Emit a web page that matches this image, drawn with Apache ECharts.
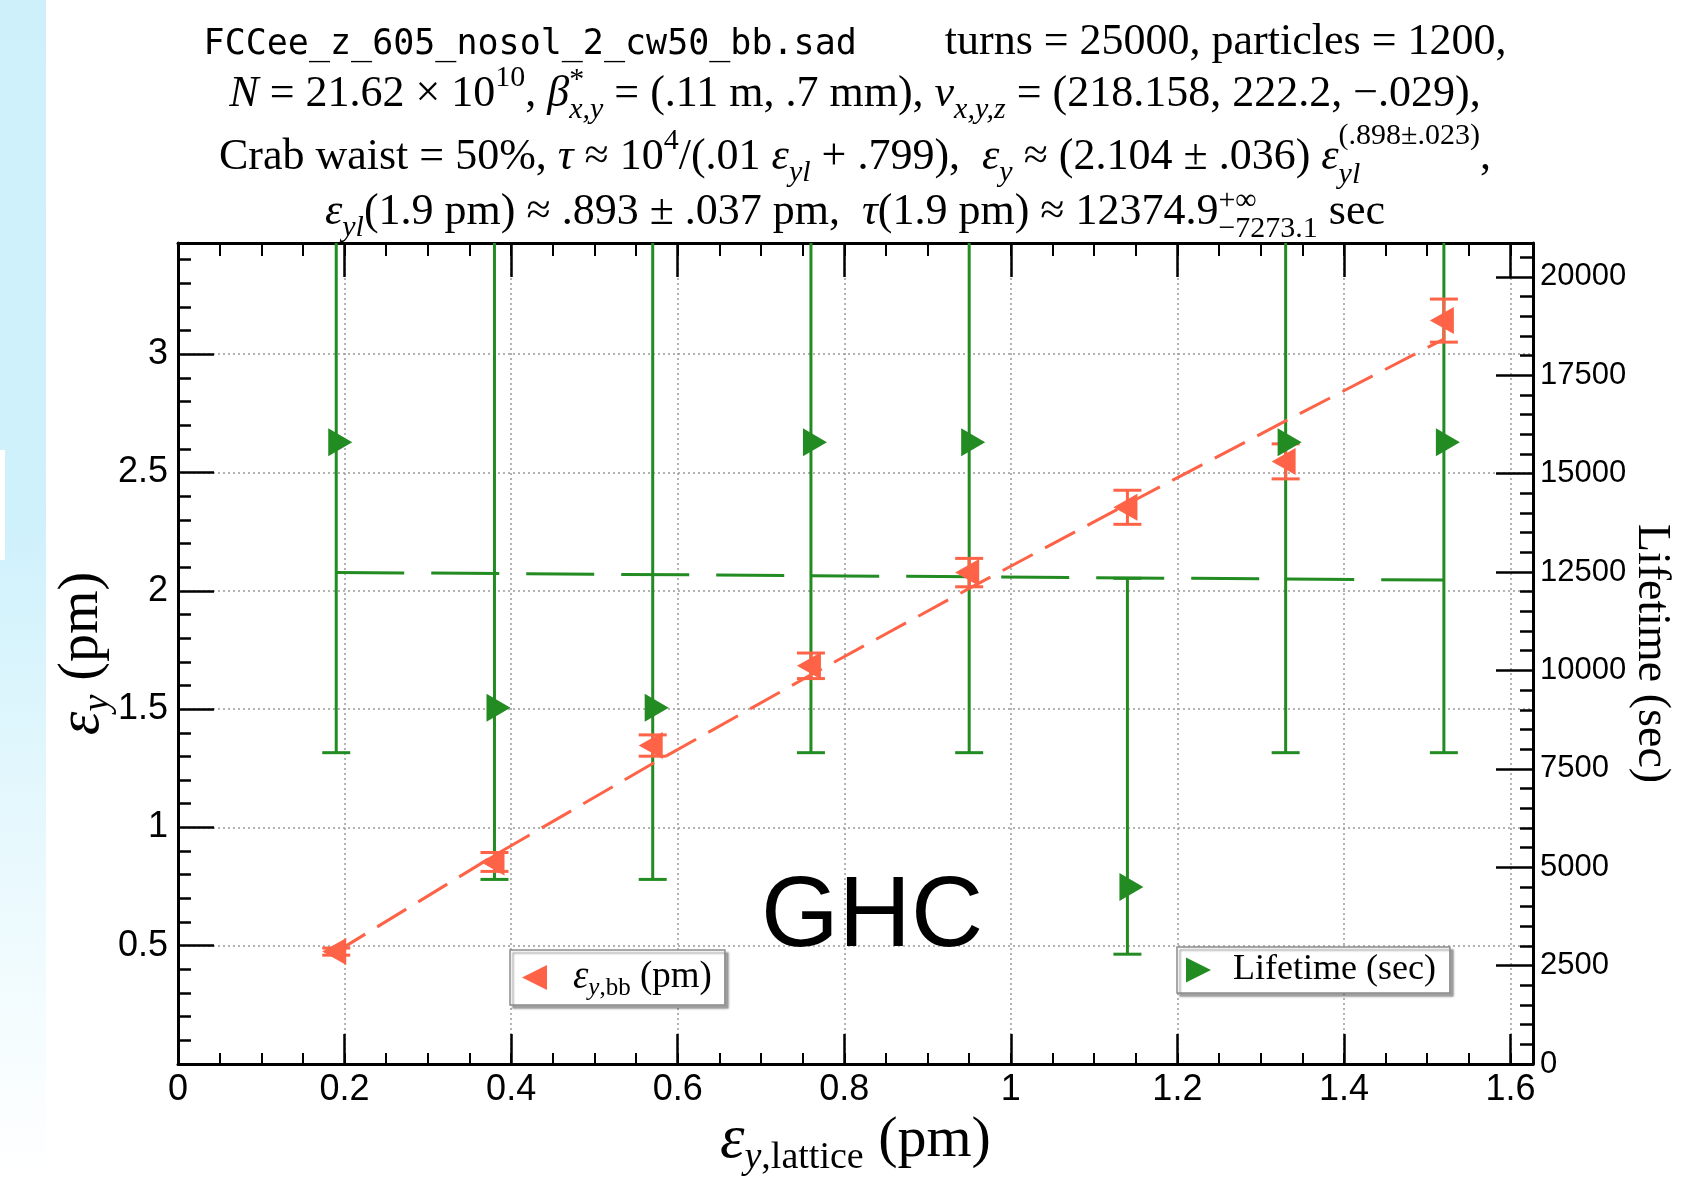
<!DOCTYPE html>
<html>
<head>
<meta charset="utf-8">
<title>FCCee_z_605 beam-beam emittance and lifetime</title>
<script src="https://cdn.jsdelivr.net/npm/echarts@6/dist/echarts.min.js"></script>
<style>
html, body { margin: 0; padding: 0; background: #fff; }
#chart { width: 1687px; height: 1178px; }
</style>
</head>
<body>
<div id="chart"></div>
<script>
// values
var xLattice = [0.19, 0.38, 0.57, 0.76, 0.95, 1.14, 1.33, 1.52];
var epsBB = [0.475, 0.854, 1.346, 1.683, 2.077, 2.353, 2.547, 3.142];
var epsErr = [0.015, 0.04, 0.045, 0.054, 0.06, 0.072, 0.074, 0.091];
var lifetime = [15800, 9050, 9050, 15800, 15800, 4500, 15800, 15800];
var lifeLow = [7910, 4690, 4690, 7910, 7910, 2790, 7910, 7910];
var lifeHigh = [Infinity, Infinity, Infinity, Infinity, Infinity, 12340, Infinity, Infinity];
var fitEps = [0.474, 0.882, 1.27, 1.645, 2.01, 2.367, 2.718, 3.064];
var fitLifeX = [0.19, 1.52];
var fitLife = [12490, 12295];

var X_MAX = 1.627, EPS_MAX = 3.47, LIFE_MAX = 20860;

var SANS = '"Liberation Sans", Arial, sans-serif';
var SERIF = '"Liberation Serif", "Times New Roman", serif';
var MONO = '"DejaVu Sans Mono", monospace';
var ORANGE = '#ff6347', GREEN = '#228b22';
var RIGHT_TRI = 'path://M0,0L10,5L0,10Z';
var LEFT_TRI = 'path://M10,0L0,5L10,10Z';

var dom = document.getElementById('chart');
var myChart = echarts.init(dom);

// --- small helper to lay out the math title lines (sub/superscripts) ---
var mctx = document.createElement('canvas').getContext('2d');
function rm(t, s, dy) { return { t: t, s: s, dy: dy || 0, f: s + 'px ' + SERIF }; }
function it(t, s, dy) { return { t: t, s: s, dy: dy || 0, f: 'italic ' + s + 'px ' + SERIF }; }
function stk(r) { r.stack = true; return r; }
function mathLine(runs, cx, baseline) {
    var x = 0, lastStart = 0, lastW = 0, placed = [];
    runs.forEach(function (r) {
        if (r.gap) { x += r.gap; return; }
        mctx.font = r.f;
        var w = mctx.measureText(r.t).width;
        if (r.stack) {
            var adv = Math.max(lastW, w);
            placed.push({ r: r, x: lastStart });
            x = lastStart + adv;
            lastW = adv;
        } else {
            placed.push({ r: r, x: x });
            lastStart = x; lastW = w; x += w;
        }
    });
    var left = cx - x / 2;
    return placed.map(function (p) {
        return {
            type: 'text', x: left + p.x, y: baseline + p.r.dy - 0.34 * p.r.s, z: 10,
            style: { text: p.r.t, font: p.r.f, fill: '#000', align: 'left', verticalAlign: 'middle' }
        };
    });
}

var S = 44, s = 30;
var title = [].concat(
    mathLine([
        { t: 'FCCee_z_605_nosol_2_cw50_bb.sad', s: 35, dy: 0, f: '35px ' + MONO },
        { gap: 88 },
        rm('turns = 25000, particles = 1200,', S)
    ], 855, 57),
    mathLine([
        it('N', S), rm(' = 21.62 \u00d7 10', S), rm('10', s, -21), rm(', ', S),
        it('\u03b2', S), rm('*', s, -19), stk(it('x,y', s, 11)),
        rm(' = (.11 m, .7 mm), ', S), it('\u03bd', S), it('x,y,z', s, 11),
        rm(' = (218.158, 222.2, \u2212.029),', S)
    ], 855, 109),
    mathLine([
        rm('Crab waist = 50%, ', S), it('\u03c4', S), rm(' \u2248 10', S), rm('4', s, -21),
        rm('/(.01 ', S), it('\u03b5', S), it('yl', s, 11), rm(' + .799),  ', S),
        it('\u03b5', S), it('y', s, 11), rm(' \u2248 (2.104 \u00b1 .036) ', S),
        it('\u03b5', S), it('yl', s, 13), stk(rm('(.898\u00b1.023)', s, -26)), rm(',', S)
    ], 855, 172),
    mathLine([
        it('\u03b5', S), it('yl', s, 11), rm('(1.9 pm) \u2248 .893 \u00b1 .037 pm,  ', S),
        it('\u03c4', S), rm('(1.9 pm) \u2248 12374.9', S), rm('+\u221e', s, -16),
        stk(rm('\u22127273.1', s, 12)), rm(' sec', S)
    ], 855, 227)
);

function fmt(v) { return String(Math.round(v * 1000) / 1000); }

function errorBars(color, yMax) {
    return function (params, api) {
        var x = api.value(0), lo = api.value(1), hi = api.value(2);
        var open = !(hi <= yMax);
        var pLo = api.coord([x, lo]);
        var pHi = api.coord([x, open ? yMax : hi]);
        var w = 14, st = { stroke: color, lineWidth: 3 };
        var kids = [
            { type: 'line', shape: { x1: pLo[0], y1: pLo[1], x2: pHi[0], y2: pHi[1] }, style: st },
            { type: 'line', shape: { x1: pLo[0] - w, y1: pLo[1], x2: pLo[0] + w, y2: pLo[1] }, style: st }
        ];
        if (!open) {
            kids.push({ type: 'line', shape: { x1: pHi[0] - w, y1: pHi[1], x2: pHi[0] + w, y2: pHi[1] }, style: st });
        }
        return { type: 'group', children: kids };
    };
}

function tickAxis(pos, interval, max, len, width) {
    return {
        type: 'value', position: pos, min: 0, max: max, interval: interval,
        axisLine: { show: false, onZero: false },
        axisTick: { show: true, inside: true, length: len, lineStyle: { color: '#000', width: width } },
        axisLabel: { show: false }, splitLine: { show: false }
    };
}

// rich styles for axis names: a subscript is dropped by top padding inside a fixed line box
function nameRich(big, small, lh, drop) {
    return {
        e: { fontFamily: SERIF, fontStyle: 'italic', fontSize: big + 4, lineHeight: lh },
        sy: { fontFamily: SERIF, fontStyle: 'italic', fontSize: small, lineHeight: lh - drop, padding: [drop, 0, 0, 0] },
        sl: { fontFamily: SERIF, fontSize: small, lineHeight: lh - drop, padding: [drop, 0, 0, 0] },
        n: { fontFamily: SERIF, fontSize: big, lineHeight: lh }
    };
}

var grid = { left: 178, right: 154, top: 243, bottom: 114, containLabel: false, outerBoundsMode: 'none' };
var frameLine = { show: true, onZero: false, lineStyle: { color: '#000', width: 3 } };
var gridDots = { show: true, showMinLine: false, showMaxLine: false, lineStyle: { color: '#9a9a9a', width: 1.5, type: [2, 3] } };

var option = {
    backgroundColor: '#fff',
    animation: false,
    grid: grid,
    graphic: [
        {
            type: 'rect', z: -10, shape: { x: 0, y: 0, width: 46, height: 1178 },
            style: { fill: { type: 'linear', x: 0, y: 0, x2: 0, y2: 1, colorStops: [
                { offset: 0, color: '#cdf0fb' }, { offset: 0.45, color: '#cff1fc' },
                { offset: 0.7, color: '#e6f8fd' }, { offset: 0.9, color: '#f7fdff' }, { offset: 1, color: '#ffffff' }] } }
        },
        { type: 'rect', z: -9, shape: { x: 0, y: 450, width: 5, height: 110 }, style: { fill: '#ffffff' } },
        {
            type: 'text', x: 872, y: 918, z: 10,
            style: { text: 'GHC', font: '100px ' + SANS, fill: '#000', align: 'center', verticalAlign: 'middle' }
        }
    ].concat(title),
    legend: [
        {
            data: [{ name: 'epsbb', icon: LEFT_TRI }], selectedMode: false,
            left: 510, top: 950, padding: [4, 13, 4, 12], itemWidth: 25, itemHeight: 28,
            backgroundColor: '#fff', borderColor: '#8c8c8c', borderWidth: 1.5, borderRadius: 0,
            shadowColor: 'rgba(0,0,0,0.35)', shadowBlur: 2, shadowOffsetX: 3, shadowOffsetY: 3,
            formatter: function () { return '{e|\u03b5}{sy|y}{sl|,bb}{n| (pm)}'; },
            textStyle: {
                color: '#000', fontFamily: SERIF, fontSize: 37, lineHeight: 38,
                rich: {
                    e: { fontFamily: SERIF, fontStyle: 'italic', fontSize: 39, lineHeight: 38, padding: [0, 0, 0, 21] },
                    sy: { fontFamily: SERIF, fontStyle: 'italic', fontSize: 25, lineHeight: 16, padding: [22, 0, 0, 0] },
                    sl: { fontFamily: SERIF, fontSize: 25, lineHeight: 16, padding: [22, 0, 0, 0] },
                    n: { fontFamily: SERIF, fontSize: 37, lineHeight: 38 }
                }
            }
        },
        {
            data: [{ name: 'life', icon: RIGHT_TRI }], selectedMode: false,
            left: 1177, top: 947, padding: [5, 14, 5, 9], itemWidth: 25, itemHeight: 28,
            backgroundColor: '#fff', borderColor: '#8c8c8c', borderWidth: 1.5, borderRadius: 0,
            shadowColor: 'rgba(0,0,0,0.35)', shadowBlur: 2, shadowOffsetX: 3, shadowOffsetY: 3,
            formatter: function () { return '{n|Lifetime (sec)}'; },
            textStyle: {
                color: '#000', fontFamily: SERIF, fontSize: 36, lineHeight: 32,
                rich: { n: { fontFamily: SERIF, fontSize: 36, lineHeight: 32, padding: [0, 0, 0, 17] } }
            }
        }
    ],
    xAxis: [
        {
            type: 'value', position: 'bottom', min: 0, max: X_MAX, interval: 0.2,
            axisLine: frameLine,
            axisTick: { show: true, inside: true, length: 30, lineStyle: { color: '#000', width: 2.5 } },
            axisLabel: { showMaxLabel: false, color: '#000', fontFamily: SANS, fontSize: 36, margin: 8, formatter: fmt },
            splitLine: gridDots,
            name: '{e|\u03b5}{sy|y}{sl|,lattice}{n| (pm)}', nameLocation: 'middle', nameGap: 48, nameMoveOverlap: false,
            nameTextStyle: { color: '#000', fontFamily: SERIF, fontSize: 58, rich: nameRich(58, 38, 58, 34) }
        },
        tickAxis('bottom', 0.05, X_MAX, 11, 2),
        {
            type: 'value', position: 'top', min: 0, max: X_MAX, interval: 0.2,
            axisLine: frameLine,
            axisTick: { show: true, inside: true, length: 34, lineStyle: { color: '#000', width: 2.5 } },
            axisLabel: { show: false }, splitLine: { show: false }
        },
        tickAxis('top', 0.05, X_MAX, 13, 2)
    ],
    yAxis: [
        {
            type: 'value', position: 'left', min: 0, max: EPS_MAX, interval: 0.5,
            axisLine: frameLine,
            axisTick: { show: true, inside: true, length: 36, lineStyle: { color: '#000', width: 2.5 } },
            axisLabel: { showMinLabel: false, showMaxLabel: false, color: '#000', fontFamily: SANS, fontSize: 36, margin: 10, formatter: fmt },
            splitLine: gridDots,
            name: '{e|\u03b5}{sy|y}{n| (pm)}', nameLocation: 'middle', nameGap: 68, nameMoveOverlap: false,
            nameTextStyle: { color: '#000', fontFamily: SERIF, fontSize: 56, rich: nameRich(56, 38, 56, 32) }
        },
        tickAxis('left', 0.1, EPS_MAX, 13, 2.5),
        {
            type: 'value', position: 'right', min: 0, max: LIFE_MAX, interval: 2500,
            axisLine: frameLine,
            axisTick: { show: true, inside: true, length: 37, lineStyle: { color: '#000', width: 2.5 } },
            axisLabel: { showMaxLabel: false, color: '#000', fontFamily: SANS, fontSize: 31, margin: 7, formatter: fmt },
            splitLine: { show: false },
            name: 'Lifetime (sec)', nameLocation: 'middle', nameRotate: -90, nameGap: 95, nameMoveOverlap: false,
            nameTextStyle: { color: '#000', fontFamily: SERIF, fontSize: 46 }
        },
        tickAxis('right', 500, LIFE_MAX, 13, 2.5)
    ],
    series: [
        {
            name: 'lifeFit', type: 'line', xAxisIndex: 0, yAxisIndex: 2, z: 2,
            data: fitLifeX.map(function (x, i) { return [x, fitLife[i]]; }),
            showSymbol: false, symbol: 'none',
            lineStyle: { color: GREEN, width: 3, type: [68, 27] }
        },
        {
            name: 'lifeErr', type: 'custom', xAxisIndex: 0, yAxisIndex: 2, z: 2,
            renderItem: errorBars(GREEN, LIFE_MAX),
            encode: { x: 0, y: [1, 2] },
            data: xLattice.map(function (x, i) { return [x, lifeLow[i], lifeHigh[i]]; })
        },
        {
            name: 'epsFit', type: 'line', xAxisIndex: 0, yAxisIndex: 0, z: 3,
            data: xLattice.map(function (x, i) { return [x, fitEps[i]]; }),
            showSymbol: false, symbol: 'none',
            lineStyle: { color: ORANGE, width: 3, type: [34, 14] }
        },
        {
            name: 'epsErr', type: 'custom', xAxisIndex: 0, yAxisIndex: 0, z: 3,
            renderItem: errorBars(ORANGE, EPS_MAX),
            encode: { x: 0, y: [1, 2] },
            data: xLattice.map(function (x, i) { return [x, epsBB[i] - epsErr[i], epsBB[i] + epsErr[i]]; })
        },
        {
            name: 'life', type: 'scatter', xAxisIndex: 0, yAxisIndex: 2, z: 4,
            symbol: RIGHT_TRI, symbolSize: [24, 28], symbolOffset: [4, 0],
            itemStyle: { color: GREEN, opacity: 1 },
            data: xLattice.map(function (x, i) { return [x, lifetime[i]]; })
        },
        {
            name: 'epsbb', type: 'scatter', xAxisIndex: 0, yAxisIndex: 0, z: 4,
            symbol: LEFT_TRI, symbolSize: [24, 27], symbolOffset: [-2, 0],
            itemStyle: { color: ORANGE, opacity: 1 },
            data: xLattice.map(function (x, i) { return [x, epsBB[i]]; })
        }
    ]
};

if (option && typeof option === 'object') {
    myChart.setOption(option);
}
</script>
</body>
</html>
